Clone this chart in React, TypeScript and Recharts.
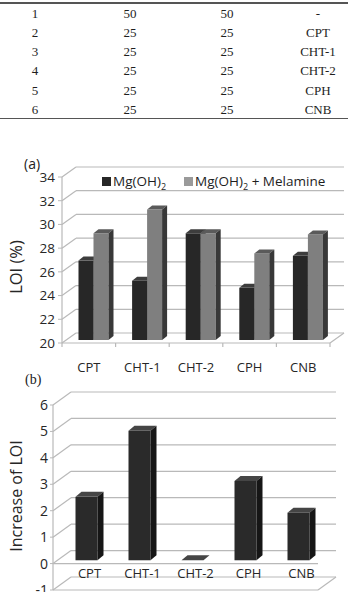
import React from "react";
import { BarChart, Bar, XAxis, YAxis, CartesianGrid, Legend, ReferenceLine } from "recharts";

// table rows
const sampleNo = ["1", "2", "3", "4", "5", "6"];
const compA = ["50", "25", "25", "25", "25", "25"];
const compB = ["50", "25", "25", "25", "25", "25"];
const additive = ["-", "CPT", "CHT-1", "CHT-2", "CPH", "CNB"];

// charts
const categories = ["CPT", "CHT-1", "CHT-2", "CPH", "CNB"];
const seriesNames = ["Mg(OH)2", "Mg(OH)2 + Melamine"];
const loiMgOH = [26.7, 25.0, 29.0, 24.4, 27.1];
const loiMelamine = [29.0, 31.0, 29.0, 27.3, 28.9];
const loiIncrease = [2.4, 4.9, 0, 3.0, 1.8];
const loiTicks = [20, 22, 24, 26, 28, 30, 32, 34];
const incTicks = [-1, 0, 1, 2, 3, 4, 5, 6];

const SANS = "'Open Sans', 'DejaVu Sans', sans-serif";
const SERIF = "'Liberation Serif', 'DejaVu Serif', serif";
const GRID = "#b9b9b9";
const TXT = "#262626";

const dataA = categories.map((c, i) => ({ name: c, mg: loiMgOH[i], mel: loiMelamine[i] }));
const dataB = categories.map((c, i) => ({ name: c, inc: loiIncrease[i] }));

// 3D column: front rect + top + right side, pushed back into the depth by (bx, by)
const box3d = (bx: number, by: number, ddx: number, ddy: number, front: string, top: string, side: string) =>
  (p: any) => {
    const { x, y, width, height } = p;
    if (x == null || y == null) return <g />;
    const x0 = x + bx;
    const y0 = y + by;
    const w = width;
    const h = Math.max(0, height);
    return (
      <g>
        {h > 0 && <rect x={x0} y={y0} width={w} height={h} fill={front} />}
        <polygon
          points={`${x0},${y0} ${x0 + w},${y0} ${x0 + w + ddx},${y0 + ddy} ${x0 + ddx},${y0 + ddy}`}
          fill={top}
        />
        {h > 0 && (
          <polygon
            points={`${x0 + w},${y0} ${x0 + w + ddx},${y0 + ddy} ${x0 + w + ddx},${y0 + h + ddy} ${x0 + w},${y0 + h}`}
            fill={side}
          />
        )}
      </g>
    );
  };

// back wall gridlines with the diagonal to the front axis
const wallGrid = (dx: number, dy: number, bottomY: number) => (p: any) => {
  const { x1, y1, x2, index } = p;
  const bottom = Math.abs(y1 - bottomY) < 1;
  return (
    <g key={`wg-${index}-${y1}`}>
      <line x1={x1} y1={y1} x2={x1 + dx} y2={y1 + dy} stroke={GRID} strokeWidth={1.2} />
      <line x1={x1 + dx} y1={y1 + dy} x2={x2 + dx} y2={y1 + dy} stroke={GRID} strokeWidth={1.2} />
      {bottom && <line x1={x2} y1={y1} x2={x2 + dx} y2={y1 + dy} stroke={GRID} strokeWidth={1.2} />}
    </g>
  );
};

const chem = (s: string) =>
  s.split(/(\(OH\)2)/).map((part, i) =>
    part === "(OH)2" ? (
      <span key={i}>
        (OH)<sub style={{ fontSize: 9, lineHeight: 0 }}>2</sub>
      </span>
    ) : (
      <span key={i} style={{ whiteSpace: "pre" }}>{part}</span>
    )
  );

const renderLegend = (p: any) => (
  <div style={{ display: "flex", alignItems: "center", fontFamily: SANS, fontSize: 13.5, color: "#1e1e1e", lineHeight: "14px" }}>
    {(p.payload || []).map((e: any, i: number) => (
      <div key={i} style={{ display: "flex", alignItems: "center", marginRight: 18 }}>
        <span style={{ display: "inline-block", width: 9, height: 9, background: i === 0 ? "#272727" : "#9a9a9a", marginRight: 2 }} />
        <span>{chem(String(e.value))}</span>
      </div>
    ))}
  </div>
);

const yTitle = (text: string, cx: number, shift: number, size: number) => (p: any) => {
  const vb = p.viewBox || { y: 0, height: 0 };
  const cy = vb.y + vb.height / 2 + shift;
  return (
    <text
      x={cx}
      y={cy}
      transform={`rotate(-90 ${cx} ${cy})`}
      textAnchor="middle"
      dominantBaseline="central"
      fontFamily={SANS}
      fontSize={size}
      fill={TXT}
    >
      {text}
    </text>
  );
};

// chart A geometry
const A_W = 348, A_H = 240;
const A_M = { top: 37, right: 18, bottom: 7, left: 0 };
const A_YW = 62;
const A_BOTTOM = A_H - A_M.bottom - 30;
const A_BAND = (A_W - A_YW - A_M.right) / categories.length;

// chart B geometry
const B_W = 348, B_H = 250;
const B_M = { top: 30, right: 30, bottom: 5, left: 0 };
const B_YW = 53;
const B_BOTTOM = B_H - B_M.bottom - 30;

const tickA = (p: any) => {
  const { x, y, payload, index } = p;
  const half = A_BAND / 2;
  return (
    <g>
      {index === 0 && <line x1={x - half} y1={y} x2={x - half} y2={y + 4} stroke={GRID} strokeWidth={1.2} />}
      <line x1={x + half} y1={y} x2={x + half} y2={y + 4} stroke={GRID} strokeWidth={1.2} />
      <text x={x} y={y + 24} textAnchor="middle" dominantBaseline="central" fontFamily={SANS} fontSize={13} fill={TXT}>
        {payload.value}
      </text>
    </g>
  );
};

const tickB = (p: any) => {
  const { x, y, payload } = p;
  return (
    <text x={x + 10} y={y - 17} textAnchor="middle" dominantBaseline="central" fontFamily={SANS} fontSize={13} fill={TXT}>
      {payload.value}
    </text>
  );
};

export default function App() {
  const colX = [35, 130, 227, 318];
  const cols = [sampleNo, compA, compB, additive];
  return (
    <div style={{ position: "absolute", left: 0, top: 0, width: 348, height: 592, overflow: "hidden", background: "#fff" }}>
      {/* table */}
      <div style={{ position: "absolute", left: 0, top: 2, width: 348, height: 1.5, background: "#555" }} />
      {sampleNo.map((_, r) =>
        cols.map((col, c) => (
          <div
            key={`${r}-${c}`}
            style={{
              position: "absolute",
              left: colX[c] - 40,
              width: 80,
              top: 3.5 + r * 19.3,
              height: 19.3,
              lineHeight: "19.3px",
              textAlign: "center",
              fontFamily: SERIF,
              fontSize: 13,
              color: "#1e1e1e",
            }}
          >
            {col[r]}
          </div>
        ))
      )}
      <div style={{ position: "absolute", left: 0, top: 117.5, width: 348, height: 1.5, background: "#555" }} />

      {/* chart (a) */}
      <div style={{ position: "absolute", left: 24, top: 154, fontFamily: SANS, fontSize: 14, color: "#222" }}>(a)</div>
      <div style={{ position: "absolute", left: 0, top: 140 }}>
        <BarChart width={A_W} height={A_H} data={dataA} margin={A_M} barGap={0} barSize={15}>
          <CartesianGrid vertical={false} horizontal={wallGrid(14, -10, A_BOTTOM)} />
          <XAxis
            dataKey="name"
            height={30}
            tickLine={false}
            tickSize={0}
            tickMargin={0}
            axisLine={{ stroke: GRID, strokeWidth: 1.2 }}
            tick={tickA}
            interval={0}
          />
          <YAxis
            width={A_YW}
            domain={[20, 34]}
            ticks={loiTicks}
            interval={0}
            tickSize={4}
            tickMargin={3}
            tickLine={{ stroke: GRID }}
            axisLine={{ stroke: GRID, strokeWidth: 1.2 }}
            tick={{ fontFamily: SANS, fontSize: 13.5, fill: TXT }}
            label={{ content: yTitle("LOI (%)", 15, 7, 16.5) }}
          />
          <Legend
            layout="horizontal"
            verticalAlign="middle"
            align="center"
            wrapperStyle={{ top: 34, left: 102, width: "auto" }}
            content={renderLegend}
          />
          <Bar
            dataKey="mg"
            name={seriesNames[0]}
            fill="#272727"
            isAnimationActive={false}
            shape={box3d(4.5, -3, 5, -4, "#272727", "#3d3d3d", "#141414")}
          />
          <Bar
            dataKey="mel"
            name={seriesNames[1]}
            fill="#9a9a9a"
            isAnimationActive={false}
            shape={box3d(4.5, -3, 5, -4, "#7f7f7f", "#5a5a5a", "#383838")}
          />
        </BarChart>
      </div>

      {/* chart (b) */}
      <div style={{ position: "absolute", left: 25, top: 372, fontFamily: SERIF, fontSize: 14, color: "#222" }}>(b)</div>
      <div style={{ position: "absolute", left: 0, top: 375 }}>
        <BarChart width={B_W} height={B_H} data={dataB} margin={B_M} barSize={22}>
          <CartesianGrid vertical={false} horizontal={wallGrid(18, -13, B_BOTTOM)} />
          <XAxis
            dataKey="name"
            height={30}
            tickLine={false}
            tickSize={0}
            tickMargin={0}
            axisLine={{ stroke: GRID, strokeWidth: 1.2 }}
            tick={tickB}
            interval={0}
          />
          <YAxis
            width={B_YW}
            domain={[-1, 6]}
            ticks={incTicks}
            interval={0}
            tickSize={3}
            tickMargin={2}
            tickLine={{ stroke: GRID }}
            axisLine={{ stroke: GRID, strokeWidth: 1.2 }}
            tick={{ fontFamily: SANS, fontSize: 14, fill: TXT }}
            label={{ content: yTitle("Increase of LOI", 16, -1.5, 16) }}
          />
          <ReferenceLine y={0} stroke={GRID} strokeWidth={1.2} />
          <Bar
            dataKey="inc"
            fill="#2a2a2a"
            isAnimationActive={false}
            shape={box3d(6.5, -3.3, 6, -5, "#2a2a2a", "#454545", "#161616")}
          />
        </BarChart>
      </div>
    </div>
  );
}
